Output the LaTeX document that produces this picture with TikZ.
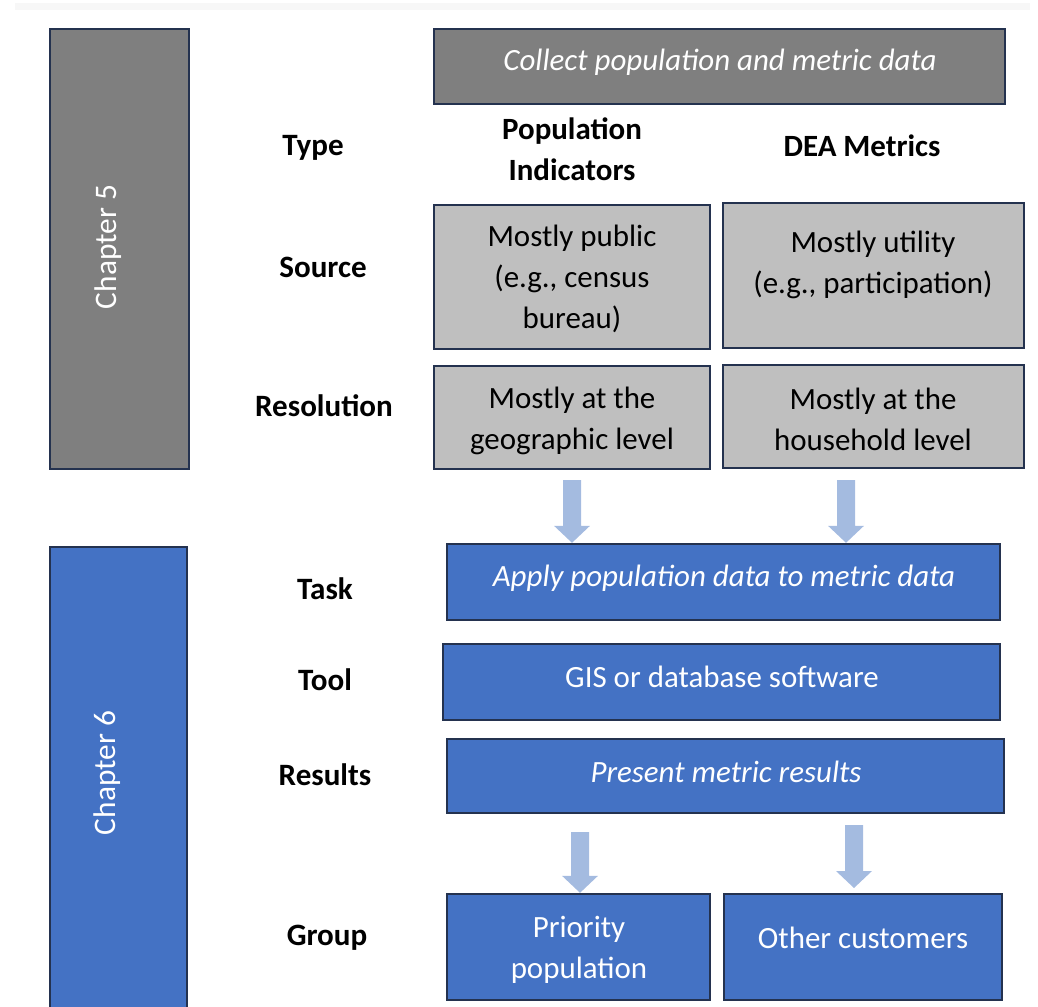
\documentclass[tikz,border=0pt]{standalone}
\usepackage{fontspec}
\setmainfont{Carlito}
\usetikzlibrary{fit,calc}
\definecolor{darkgrayfill}{HTML}{7F7F7F}
\definecolor{lightgrayfill}{HTML}{BFBFBF}
\definecolor{bluefill}{HTML}{4472C4}
\definecolor{borderc}{HTML}{24324F}
\definecolor{arrowblue}{HTML}{A4BBE0}
\definecolor{bandc}{HTML}{F7F7F7}
\tikzset{
  boxbase/.style={draw=borderc, line width=1.8pt, inner sep=0pt, rectangle},
  darkbox/.style={boxbase, fill=darkgrayfill},
  lightbox/.style={boxbase, fill=lightgrayfill},
  bluebox/.style={boxbase, fill=bluefill},
  maintext/.style={inner sep=0pt, align=center, font=\fontsize{23.2}{30.75}\selectfont},
  whitetext/.style={maintext, text=white},
  whiteitalic/.style={whitetext, font=\fontsize{23.2}{30.75}\selectfont\itshape},
  blacktext/.style={maintext, text=black},
  headtext/.style={inner sep=0pt, align=center, font=\fontsize{23.2}{30.75}\selectfont\bfseries},
  labeltext/.style={inner sep=0pt, align=center, font=\fontsize{23.3}{28}\selectfont\bfseries},
  chaptext/.style={inner sep=0pt, text=white, rotate=90, font=\fontsize{23.5}{28}\selectfont},
}
\newcommand{\blkarrow}[2]{%
  \fill[arrowblue] let \p1=(#1), \p2=(#2) in
    (\x1-6.75pt,\y1) -- (\x1+6.75pt,\y1) -- (\x1+6.75pt,\y2+12.75pt) --
    (\x1+13.5pt,\y2+12.75pt) -- (\x1,\y2) -- (\x1-13.5pt,\y2+12.75pt) --
    (\x1-6.75pt,\y2+12.75pt) -- cycle;}
\begin{document}
\begin{tikzpicture}[x=0.75pt,y=-0.75pt]
\useasboundingbox (0,0) rectangle (1038,1006);
\clip (0,0) rectangle (1038,1006);
% faint top band
\fill[bandc] (15,3) rectangle (1030,10);

% chapter boxes
\node[darkbox, fit={(50,29) (189,469)}] (ch5) {};
\node[chaptext] (ch5t) at (108,247) {Chapter 5};
\node[bluebox, fit={(50,547) (187,1012)}] (ch6) {};
\node[chaptext] (ch6t) at (107,773) {Chapter 6};

% top box
\node[darkbox, fit={(434,29) (1005,104)}] (collect) {};
\node[whiteitalic] (collectt) at (720,62) {Collect population and metric data};

% headers
\node[headtext] (popind) at (572,149) {Population\\Indicators};
\node[headtext] (dea) at (862,146) {DEA Metrics};

% row labels
\node[labeltext] (ltype) at (313,148) {Type};
\node[labeltext] (lsource) at (323,267) {Source};
\node[labeltext] (lres) at (324,406) {Resolution};
\node[labeltext] (ltask) at (325,589) {Task};
\node[labeltext] (ltool) at (325,680) {Tool};
\node[labeltext] (lresults) at (325,775) {Results};
\node[labeltext] (lgroup) at (327,938) {Group};

% source boxes
\node[lightbox, fit={(434,205) (710,349)}] (srcL) {};
\node[blacktext] (srcLt) at (572,279) {Mostly public\\(e.g., census\\bureau)};
\node[lightbox, fit={(723,203) (1024,348)}] (srcR) {};
\node[blacktext] (srcRt) at (873,265) {Mostly utility\\(e.g., participation)};

% resolution boxes
\node[lightbox, fit={(434,366) (710,469)}] (resL) {};
\node[blacktext] (resLt) at (572,421) {Mostly at the\\geographic level};
\node[lightbox, fit={(723,365) (1024,468)}] (resR) {};
\node[blacktext] (resRt) at (873,419) {Mostly at the\\household level};

% chapter 6 boxes
\node[bluebox, fit={(447,544) (1000,620)}] (task) {};
\node[whiteitalic] (taskt) at (724,578) {Apply population data to metric data};
\node[bluebox, fit={(443,644) (1000,720)}] (tool) {};
\node[whitetext] (toolt) at (722,677) {GIS or database software};
\node[bluebox, fit={(447,739) (1004,813)}] (results) {};
\node[whiteitalic] (resultst) at (726,772) {Present metric results};
\node[bluebox, fit={(447,894) (710,1000)}] (prio) {};
\node[whitetext] (priot) at (579,950) {Priority\\population};
\node[bluebox, fit={(724,894) (1002,1000)}] (other) {};
\node[whitetext] (othert) at (863,938) {Other customers};

% arrows
\coordinate (a1s) at (572,480);
\coordinate (a2s) at (846,480);
\coordinate (a3s) at (580,832);
\coordinate (a4s) at (854,825);
\coordinate (a4e) at (854,888);
\blkarrow{a1s}{a1s |- task.north}
\blkarrow{a2s}{a2s |- task.north}
\blkarrow{a3s}{a3s |- prio.north}
\blkarrow{a4s}{a4e}
\end{tikzpicture}
\end{document}
